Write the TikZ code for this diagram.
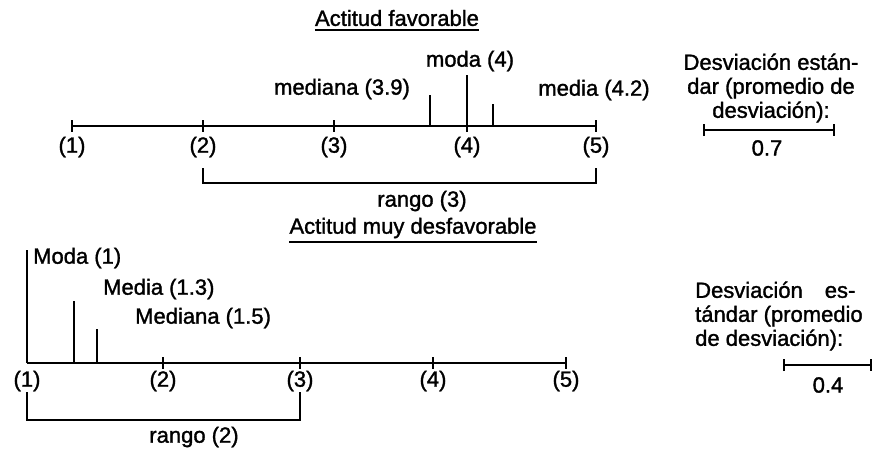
\documentclass[tikz,border=0pt]{standalone}
\usepackage{fontspec}
\setmainfont{Liberation Sans}[BoldFont=Liberation Sans,BoldFeatures={FakeBold=1.4}]
\usetikzlibrary{arrows.meta,positioning}

\begin{document}
\begin{tikzpicture}[x=1pt,y=-1pt,>=Latex]
  \tikzset{txt/.style={inner sep=0pt,font=\fontsize{22}{24}\selectfont\bfseries}}
  \tikzset{axis/.style={line width=2pt}}
  \tikzset{valline/.style={line width=1.8pt}}
  \tikzset{tickbar/.style={line width=1.5pt}}
  \tikzset{sdline/.style={line width=2pt,{Bar[width=12pt,line width=1.8pt]}-{Bar[width=12pt,line width=1.8pt]}}}
  \useasboundingbox (0,0) rectangle (876,453);
  % actitud favorable
  \node[txt] (favtitle) at (397,18) {Actitud favorable};
  \draw[axis] ([yshift=-4pt]favtitle.south west) -- ([yshift=-4pt]favtitle.south east);
  \foreach \i/\x in {1/72,2/203,3/334,4/467,5/596} {
    \coordinate (f\i) at (\x,126);
    \draw[tickbar] ([yshift=6pt]f\i) -- ([yshift=-6pt]f\i);
    \node[txt] (fl\i) at (\x,147) {(\i)};
  }
  \draw[axis] (f1) -- (f5);
  \coordinate (fmed) at (430,126);
  \coordinate (fmedtop) at (430,95);
  \coordinate (fmodtop) at (467,75);
  \coordinate (fmean) at (493,126);
  \coordinate (fmeantop) at (493,104);
  \draw[valline] (fmed) -- (fmedtop);
  \draw[valline] (f4) -- (fmodtop);
  \draw[valline] (fmean) -- (fmeantop);
  \node[txt] (fmedlab) at (342,89) {mediana (3.9)};
  \node[txt] (fmodlab) at (470,61) {moda (4)};
  \node[txt] (fmeanlab) at (594,90) {media (4.2)};
  \coordinate (fr1) at (203,168);
  \coordinate (fr2) at (596,168);
  \coordinate (frmid) at (400,183);
  \draw[axis] (fr1) |- (frmid) -| (fr2);
  \node[txt] (frango) at (422,201) {rango (3)};
  \node[txt,align=center] (fsd) at (771,88) {Desviación están-\\dar (promedio de\\desviación):};
  \coordinate (fsd1) at (703,130);
  \coordinate (fsd2) at (835,130);
  \draw[sdline] (fsd1) -- (fsd2);
  \node[txt] (fsdval) at (767,148) {0.7};
  % actitud muy desfavorable
  \node[txt] (destitle) at (413,228) {Actitud muy desfavorable};
  \draw[axis] ([yshift=-4pt]destitle.south west) -- ([yshift=-4pt]destitle.south east);
  \coordinate (d1) at (27,363);
  \node[txt] (dl1) at (27,381) {(1)};
  \foreach \i/\x in {2/163,3/300,4/433,5/566} {
    \coordinate (d\i) at (\x,363);
    \draw[tickbar] ([yshift=6pt]d\i) -- ([yshift=-6pt]d\i);
    \node[txt] (dl\i) at (\x,381) {(\i)};
  }
  \draw[axis] (d1) -- (d5);
  \coordinate (dmodtop) at (27,250);
  \coordinate (dmean) at (74,363);
  \coordinate (dmeantop) at (74,301);
  \coordinate (dmed) at (97,363);
  \coordinate (dmedtop) at (97,329);
  \draw[valline] (d1) -- (dmodtop);
  \draw[valline] (dmean) -- (dmeantop);
  \draw[valline] (dmed) -- (dmedtop);
  \node[txt,anchor=west] (dmodlab) at (33,258) {Moda (1)};
  \node[txt,anchor=west] (dmeanlab) at (103,289) {Media (1.3)};
  \node[txt,anchor=west] (dmedlab) at (135,318) {Mediana (1.5)};
  \coordinate (dr1) at (27,392);
  \coordinate (dr2) at (300,392);
  \coordinate (drmid) at (160,420);
  \draw[axis] (dr1) |- (drmid) -| (dr2);
  \node[txt] (drango) at (194,437) {rango (2)};
  \node[txt,align=left,anchor=west] (dsd) at (695,316) {Desviación\hspace{22pt}es-\\tándar (promedio\\de desviación):};
  \coordinate (dsd1) at (783,365);
  \coordinate (dsd2) at (872,365);
  \draw[sdline] (dsd1) -- (dsd2);
  \node[txt] (dsdval) at (828,385) {0.4};
\end{tikzpicture}
\end{document}
